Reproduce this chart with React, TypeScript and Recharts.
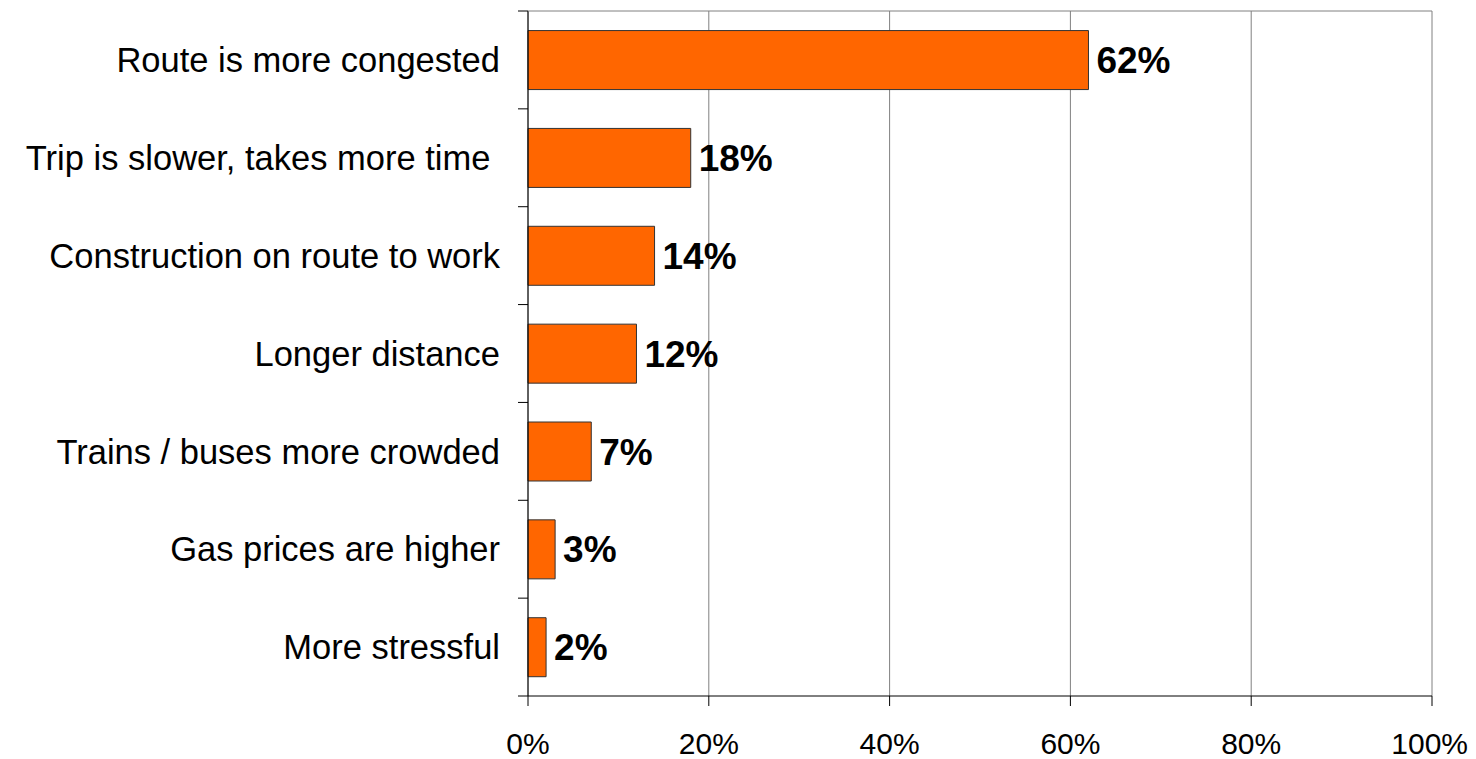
import { BarChart, Bar, XAxis, YAxis, CartesianGrid, LabelList } from "recharts"

const reasons = [
  "Route is more congested",
  "Trip is slower, takes more time\u00a0",
  "Construction on route to work",
  "Longer distance",
  "Trains / buses more crowded",
  "Gas prices are higher",
  "More stressful",
]
const shares = [62, 18, 14, 12, 7, 3, 2]
const percentTicks = [0, 20, 40, 60, 80, 100]

const font = "'Liberation Sans', Arial, sans-serif"
const chartWidth = 1460
const chartHeight = 751
const marginRight = 36
const axisWidth = 520
const plotWidth = chartWidth - marginRight - axisWidth
const labelGap = 28

// category label plus a tick mark on the band boundary; the first one also draws the grey top edge
const CategoryTick = (props: any) => {
  const { x, y, payload, index, visibleTicksCount } = props
  const axisX = x + labelGap
  const half = payload.offset || 0
  return (
    <g>
      {index === 0 && (
        <line x1={axisX} x2={axisX + plotWidth} y1={y - half} y2={y - half} stroke="#808080" />
      )}
      <line x1={axisX - 10} x2={axisX} y1={y - half} y2={y - half} stroke="#000" />
      {index === visibleTicksCount - 1 && (
        <line x1={axisX - 10} x2={axisX} y1={y + half} y2={y + half} stroke="#000" />
      )}
      <text x={x} y={y} dy="0.355em" textAnchor="end" fill="#000" fontSize={34.5} fontFamily={font}>
        {payload.value}
      </text>
    </g>
  )
}

export default function App() {
  const data = reasons.map((name, i) => ({ name, value: shares[i] }))

  return (
    <div style={{ fontFamily: font }}>
      <BarChart
        width={chartWidth}
        height={chartHeight}
        data={data}
        layout="vertical"
        barCategoryGap="20%"
        margin={{ top: 3, right: marginRight, left: 0, bottom: 0 }}
      >
        <CartesianGrid horizontal={false} stroke="#808080" />
        <XAxis
          type="number"
          domain={[0, 100]}
          ticks={percentTicks}
          tickFormatter={(v) => `${v}%`}
          height={63}
          tickSize={10}
          tickMargin={27}
          stroke="#000"
          tick={{ fill: "#000", fontSize: 30, fontFamily: font }}
        />
        <YAxis
          type="category"
          dataKey="name"
          width={axisWidth}
          stroke="#000"
          tickLine={false}
          tickSize={0}
          tickMargin={labelGap}
          interval={0}
          tick={<CategoryTick />}
        />
        <Bar dataKey="value" fill="#FF6600" stroke="#333" strokeWidth={1} isAnimationActive={false}>
          <LabelList
            dataKey="value"
            position="right"
            offset={8}
            formatter={(v: number) => `${v}%`}
            style={{ fill: "#000", fontSize: 37, fontWeight: "bold", fontFamily: font }}
          />
        </Bar>
      </BarChart>
    </div>
  )
}
